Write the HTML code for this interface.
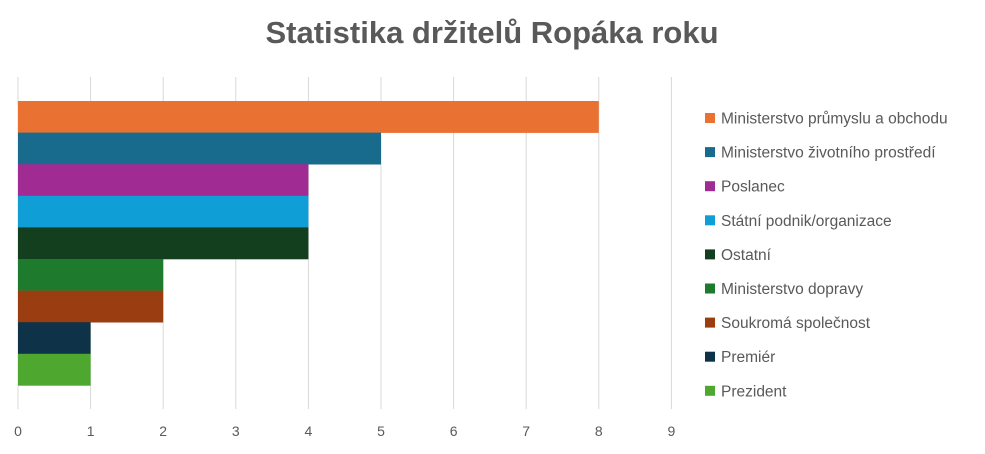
<!DOCTYPE html>
<html><head><meta charset="utf-8"><style>
body{margin:0;background:#fff;width:985px;height:449px;overflow:hidden;font-family:"Liberation Sans",sans-serif}
</style></head><body>
<svg width="985" height="449">
<text x="492" y="43" text-anchor="middle" font-size="31" font-weight="bold" fill="#595959">Statistika držitelů Ropáka roku</text>
<g id="grid"></g><g id="bars"></g><g id="ticks"></g><g id="legend"></g>
</svg>
<script>
const categories=["Ministerstvo průmyslu a obchodu","Ministerstvo životního prostředí","Poslanec","Státní podnik/organizace","Ostatní","Ministerstvo dopravy","Soukromá společnost","Premiér","Prezident"];
const values=[8,5,4,4,4,2,2,1,1];
const colors=["#E97132","#196B8D","#A02B93","#0F9ED5","#133F1E","#1E7A2C","#9A3E11","#0E3348","#4EA72E"];
const tickLabels=[0,1,2,3,4,5,6,7,8,9];
const NS="http://www.w3.org/2000/svg";
const x0=18,unit=72.6,barTop=101,barH=31.6;
const xs=v=>x0+v*unit;
function mk(t,a,p){const e=document.createElementNS(NS,t);for(const k in a)e.setAttribute(k,a[k]);p.appendChild(e);return e;}
const grid=document.getElementById('grid'),bars=document.getElementById('bars'),ticks=document.getElementById('ticks'),leg=document.getElementById('legend');
tickLabels.forEach(t=>{
  const l=mk('line',{x1:xs(t),x2:xs(t),y1:77,y2:409,stroke:'#d9d9d9','stroke-width':1},grid);
  
  
  const tx=mk('text',{x:xs(t),y:436,'text-anchor':'middle','font-size':14,fill:'#595959'},ticks);
  tx.textContent=t;
  
  
});
values.forEach((v,i)=>{
  const r=mk('rect',{x:x0,y:barTop+i*barH,width:xs(v)-x0,height:barH+0.3,fill:colors[i]},bars);
  
  
  const ly=118+i*34.1;
  const s=mk('rect',{x:705,y:ly-5,width:10,height:10,fill:colors[i]},leg);
  
  
  const t=mk('text',{x:721,y:ly+5.5,'font-size':15.5,fill:'#595959'},leg);
  t.textContent=categories[i];
  
  
});
</script>
</body></html>
